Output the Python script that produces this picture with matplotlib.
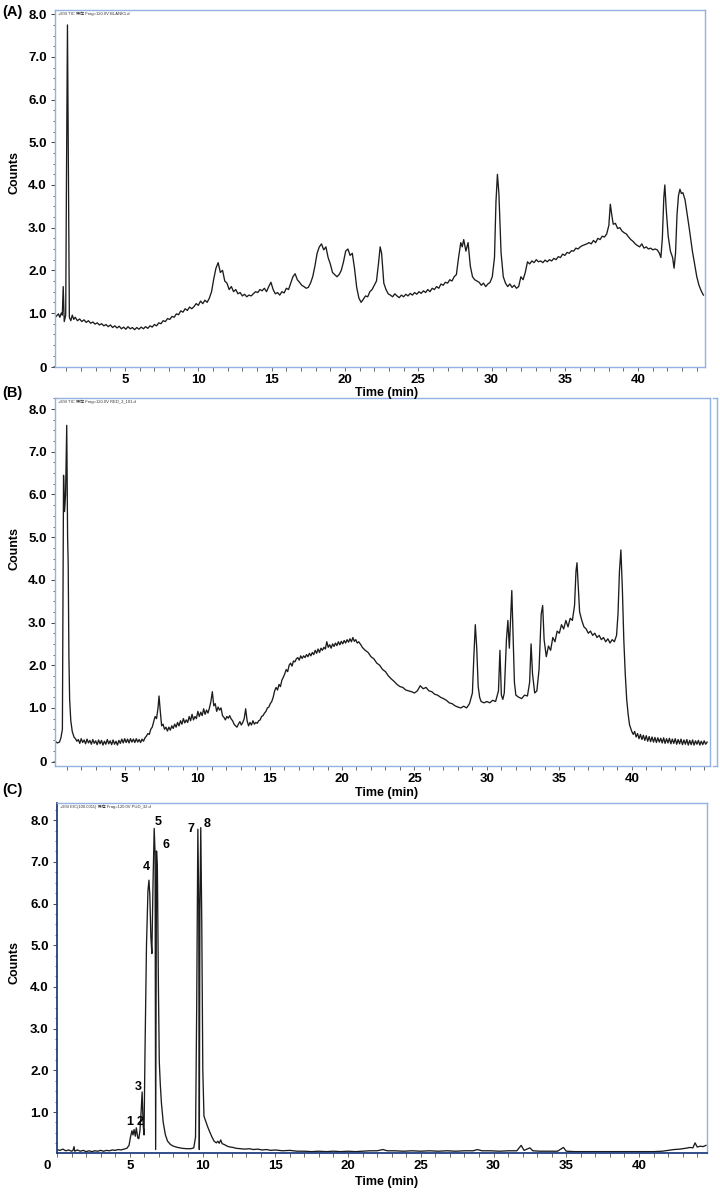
import matplotlib
matplotlib.use('Agg')
import matplotlib.pyplot as plt
from matplotlib.ticker import MultipleLocator, FixedLocator, NullFormatter
from matplotlib.lines import Line2D

plt.rcParams['font.family'] = ['Liberation Sans', 'Noto Sans CJK SC', 'DejaVu Sans']
plt.rcParams['font.weight'] = 'bold'

# ---------------- data ----------------
time_a = [0.3, 0.45, 0.55, 0.65, 0.72, 0.78, 0.85, 0.95, 1.0, 1.07, 1.15, 1.2, 1.3, 1.4, 1.5, 1.6, 1.75, 1.9,
          2.05, 2.2, 2.35, 2.5, 2.65, 2.8, 2.95, 3.1, 3.25, 3.4, 3.55, 3.7, 3.85, 4.0, 4.15, 4.3, 4.45, 4.6,
          4.75, 4.9, 5.05, 5.2, 5.35, 5.5, 5.65, 5.8, 5.95, 6.1, 6.25, 6.4, 6.55, 6.7, 6.85, 7.0, 7.15, 7.3,
          7.45, 7.6, 7.75, 7.9, 8.05, 8.2, 8.35, 8.5, 8.65, 8.8, 8.95, 9.1, 9.25, 9.4, 9.55, 9.7, 9.85, 10.0,
          10.15, 10.3, 10.45, 10.6, 10.75, 10.9, 11.05, 11.2, 11.35, 11.5, 11.65, 11.8, 11.95, 12.1, 12.25,
          12.4, 12.55, 12.7, 12.85, 13.0, 13.15, 13.3, 13.45, 13.6, 13.75, 13.9, 14.05, 14.2, 14.35, 14.5,
          14.65, 14.8, 14.95, 15.1, 15.25, 15.4, 15.55, 15.7, 15.85, 16.0, 16.15, 16.3, 16.45, 16.6, 16.75,
          16.9, 17.05, 17.2, 17.35, 17.5, 17.65, 17.8, 17.95, 18.1, 18.25, 18.4, 18.55, 18.7, 18.85, 19.0,
          19.15, 19.3, 19.45, 19.6, 19.75, 19.9, 20.05, 20.2, 20.35, 20.5, 20.65, 20.8, 20.95, 21.1, 21.25,
          21.4, 21.55, 21.7, 21.85, 22.0, 22.15, 22.3, 22.4, 22.5, 22.65, 22.8, 22.95, 23.1, 23.25, 23.4,
          23.55, 23.7, 23.85, 24.0, 24.15, 24.3, 24.45, 24.6, 24.75, 24.9, 25.05, 25.2, 25.35, 25.5, 25.65,
          25.8, 25.95, 26.1, 26.25, 26.4, 26.55, 26.7, 26.85, 27.0, 27.15, 27.3, 27.45, 27.6, 27.75, 27.9,
          28.0, 28.1, 28.25, 28.4, 28.55, 28.7, 28.85, 29.0, 29.15, 29.3, 29.45, 29.6, 29.75, 29.9, 30.05,
          30.2, 30.3, 30.4, 30.5, 30.65, 30.8, 30.95, 31.1, 31.25, 31.4, 31.55, 31.7, 31.85, 32.0, 32.15,
          32.3, 32.45, 32.6, 32.75, 32.9, 33.05, 33.2, 33.35, 33.5, 33.65, 33.8, 33.95, 34.1, 34.25, 34.4,
          34.55, 34.7, 34.85, 35.0, 35.15, 35.3, 35.45, 35.6, 35.75, 35.9, 36.05, 36.2, 36.35, 36.5, 36.65,
          36.8, 36.95, 37.1, 37.25, 37.4, 37.55, 37.7, 37.85, 38.0, 38.1, 38.2, 38.3, 38.45, 38.6, 38.75,
          38.9, 39.05, 39.2, 39.35, 39.5, 39.65, 39.8, 39.95, 40.1, 40.25, 40.4, 40.55, 40.7, 40.85, 41.0,
          41.15, 41.3, 41.45, 41.55, 41.65, 41.75, 41.82, 41.92, 42.05, 42.2, 42.35, 42.45, 42.55, 42.65,
          42.75, 42.85, 42.95, 43.05, 43.2, 43.35, 43.5, 43.7, 43.85, 44.0, 44.15, 44.3, 44.45]
counts_a = [0.92, 0.98, 0.90, 1.00, 0.95, 1.62, 0.80, 0.95, 4.00, 7.75, 3.50, 0.90, 0.82, 0.95, 0.85, 0.90,
            0.82, 0.86, 0.80, 0.84, 0.78, 0.82, 0.76, 0.79, 0.74, 0.77, 0.72, 0.75, 0.70, 0.73, 0.68, 0.72,
            0.66, 0.70, 0.65, 0.69, 0.63, 0.67, 0.62, 0.68, 0.63, 0.66, 0.61, 0.66, 0.62, 0.67, 0.63, 0.68,
            0.64, 0.70, 0.67, 0.73, 0.70, 0.77, 0.75, 0.82, 0.80, 0.87, 0.85, 0.92, 0.90, 0.98, 0.96, 1.05,
            1.02, 1.10, 1.06, 1.14, 1.10, 1.15, 1.22, 1.18, 1.28, 1.22, 1.30, 1.25, 1.35, 1.50, 1.80, 2.05,
            2.18, 1.95, 2.00, 1.75, 1.70, 1.55, 1.62, 1.50, 1.55, 1.45, 1.48, 1.40, 1.44, 1.38, 1.42, 1.40,
            1.45, 1.50, 1.48, 1.55, 1.52, 1.58, 1.50, 1.62, 1.72, 1.55, 1.45, 1.48, 1.42, 1.50, 1.47, 1.58,
            1.55, 1.70, 1.85, 1.92, 1.78, 1.72, 1.65, 1.62, 1.58, 1.60, 1.70, 1.85, 2.10, 2.40, 2.55, 2.62,
            2.48, 2.55, 2.30, 2.15, 1.95, 1.90, 1.85, 1.90, 2.00, 2.20, 2.45, 2.50, 2.35, 2.40, 2.05, 1.60,
            1.35, 1.25, 1.32, 1.40, 1.38, 1.50, 1.55, 1.65, 1.75, 2.20, 2.55, 2.40, 1.70, 1.55, 1.45, 1.42,
            1.38, 1.45, 1.40, 1.36, 1.42, 1.38, 1.44, 1.40, 1.46, 1.42, 1.48, 1.44, 1.50, 1.46, 1.52, 1.48,
            1.55, 1.50, 1.58, 1.55, 1.62, 1.58, 1.68, 1.65, 1.72, 1.70, 1.78, 1.75, 1.85, 1.90, 2.30, 2.65,
            2.55, 2.72, 2.45, 2.65, 2.10, 1.85, 1.78, 1.75, 1.72, 1.65, 1.70, 1.62, 1.68, 1.72, 1.85, 2.30,
            3.60, 4.25, 3.80, 2.40, 1.85, 1.70, 1.62, 1.68, 1.60, 1.65, 1.58, 1.62, 1.85, 1.78, 1.95, 2.20,
            2.15, 2.22, 2.18, 2.25, 2.20, 2.22, 2.18, 2.24, 2.20, 2.25, 2.22, 2.28, 2.25, 2.32, 2.30, 2.38,
            2.35, 2.42, 2.40, 2.46, 2.45, 2.52, 2.50, 2.55, 2.58, 2.60, 2.62, 2.65, 2.62, 2.70, 2.65, 2.75,
            2.72, 2.80, 2.78, 2.85, 3.05, 3.55, 3.30, 3.08, 3.10, 2.98, 3.00, 2.92, 2.88, 2.85, 2.78, 2.72,
            2.68, 2.62, 2.58, 2.55, 2.62, 2.52, 2.55, 2.50, 2.52, 2.48, 2.50, 2.48, 2.40, 2.30, 2.75, 3.70,
            4.00, 3.40, 2.80, 2.45, 2.30, 2.05, 2.40, 3.30, 3.75, 3.90, 3.80, 3.82, 3.65, 3.30, 2.95, 2.45,
            2.15, 1.85, 1.65, 1.52, 1.42]

time_b = [0.2, 0.35, 0.5, 0.6, 0.7, 0.78, 0.85, 0.92, 1.0, 1.06,
          1.1, 1.15, 1.2, 1.28, 1.38, 1.5, 1.6, 1.7, 1.8, 1.9,
          2.0, 2.1, 2.2, 2.3, 2.4, 2.5, 2.6, 2.7, 2.8, 2.9,
          3.0, 3.1, 3.2, 3.3, 3.4, 3.5, 3.6, 3.7, 3.8, 3.9,
          4.0, 4.1, 4.2, 4.3, 4.4, 4.5, 4.6, 4.7, 4.8, 4.9,
          5.0, 5.1, 5.2, 5.3, 5.4, 5.5, 5.6, 5.7, 5.8, 5.9,
          6.0, 6.1, 6.2, 6.3, 6.4, 6.5, 6.6, 6.7, 6.8, 6.9,
          7.0, 7.1, 7.2, 7.3, 7.37, 7.45, 7.55, 7.65, 7.75, 7.85,
          7.95, 8.05, 8.15, 8.25, 8.35, 8.45, 8.55, 8.65, 8.75, 8.85,
          8.95, 9.05, 9.15, 9.25, 9.35, 9.45, 9.55, 9.65, 9.75, 9.85,
          9.95, 10.05, 10.15, 10.25, 10.35, 10.45, 10.55, 10.65, 10.75, 10.85,
          10.95, 11.05, 11.15, 11.25, 11.35, 11.45, 11.55, 11.65, 11.75, 11.85,
          11.95, 12.05, 12.15, 12.25, 12.35, 12.45, 12.55, 12.65, 12.75, 12.85,
          12.95, 13.05, 13.15, 13.25, 13.35, 13.45, 13.55, 13.65, 13.75, 13.85,
          13.95, 14.05, 14.15, 14.25, 14.35, 14.45, 14.55, 14.65, 14.75, 14.85,
          14.95, 15.05, 15.15, 15.25, 15.35, 15.45, 15.55, 15.65, 15.75, 15.85,
          15.95, 16.05, 16.15, 16.25, 16.35, 16.45, 16.55, 16.65, 16.75, 16.85,
          16.95, 17.05, 17.15, 17.25, 17.35, 17.45, 17.55, 17.65, 17.75, 17.85,
          17.95, 18.05, 18.15, 18.25, 18.35, 18.45, 18.55, 18.65, 18.75, 18.85,
          18.95, 19.05, 19.15, 19.25, 19.35, 19.45, 19.55, 19.65, 19.75, 19.85,
          19.95, 20.05, 20.15, 20.25, 20.35, 20.45, 20.55, 20.65, 20.75, 20.85,
          20.95, 21.05, 21.15, 21.3, 21.4, 21.6, 21.8, 22.0, 22.2, 22.4,
          22.6, 22.8, 23.0, 23.2, 23.4, 23.6, 23.8, 24.0, 24.2, 24.4,
          24.6, 24.8, 25.0, 25.2, 25.4, 25.6, 25.8, 26.0, 26.2, 26.4,
          26.6, 26.8, 27.0, 27.2, 27.4, 27.6, 27.8, 28.0, 28.2, 28.4,
          28.6, 28.8, 29.0, 29.1, 29.2, 29.3, 29.4, 29.5, 29.6, 29.8,
          30.0, 30.2, 30.4, 30.6, 30.8, 30.9, 31.0, 31.1, 31.2, 31.35,
          31.45, 31.55, 31.65, 31.72, 31.8, 31.9, 32.0, 32.2, 32.4, 32.6,
          32.8, 32.95, 33.05, 33.15, 33.3, 33.45, 33.6, 33.75, 33.85, 33.95,
          34.1, 34.25, 34.4, 34.55, 34.7, 34.85, 35.0, 35.15, 35.3, 35.45,
          35.6, 35.75, 35.9, 36.05, 36.15, 36.22, 36.3, 36.4, 36.55, 36.7,
          36.85, 37.0, 37.15, 37.3, 37.45, 37.6, 37.75, 37.9, 38.05, 38.2,
          38.35, 38.5, 38.65, 38.8, 38.95, 39.05, 39.15, 39.25, 39.35, 39.45,
          39.55, 39.65, 39.75, 39.85, 40.0, 40.1, 40.2, 40.3, 40.4, 40.5,
          40.6, 40.7, 40.8, 40.9, 41.0, 41.1, 41.2, 41.3, 41.4, 41.5,
          41.6, 41.7, 41.8, 41.9, 42.0, 42.1, 42.2, 42.3, 42.4, 42.5,
          42.6, 42.7, 42.8, 42.9, 43.0, 43.1, 43.2, 43.3, 43.4, 43.5,
          43.6, 43.7, 43.8, 43.9, 44.0, 44.1, 44.2, 44.3, 44.4, 44.5,
          44.6, 44.7, 44.8, 44.9, 45.0, 45.1, 45.2]
counts_b = [0.22, 0.18, 0.20, 0.30, 0.50, 6.45, 5.60, 6.00, 7.62, 5.00,
            4.40, 2.20, 1.20, 0.70, 0.45, 0.32, 0.28, 0.22, 0.26, 0.17,
            0.28, 0.19, 0.25, 0.16, 0.27, 0.18, 0.24, 0.15, 0.26, 0.17,
            0.23, 0.14, 0.25, 0.16, 0.24, 0.13, 0.22, 0.15, 0.26, 0.16,
            0.23, 0.14, 0.25, 0.15, 0.22, 0.13, 0.24, 0.17, 0.27, 0.18,
            0.28, 0.19, 0.27, 0.18, 0.28, 0.20, 0.27, 0.19, 0.28, 0.20,
            0.26, 0.19, 0.27, 0.22, 0.30, 0.34, 0.40, 0.38, 0.50, 0.55,
            0.68, 0.80, 0.75, 1.00, 1.28, 0.95, 0.58, 0.62, 0.50, 0.55,
            0.46, 0.55, 0.48, 0.58, 0.52, 0.62, 0.55, 0.66, 0.58, 0.70,
            0.62, 0.75, 0.65, 0.72, 0.66, 0.80, 0.70, 0.85, 0.72, 0.80,
            0.75, 0.92, 0.80, 0.90, 0.82, 0.98, 0.85, 0.95, 0.88, 1.00,
            1.15, 1.38, 1.05, 1.10, 0.92, 1.02, 0.95, 1.00, 0.82, 0.78,
            0.72, 0.80, 0.76, 0.82, 0.74, 0.70, 0.62, 0.58, 0.55, 0.62,
            0.68, 0.60, 0.66, 0.75, 0.98, 0.70, 0.58, 0.66, 0.60, 0.70,
            0.62, 0.66, 0.64, 0.70, 0.72, 0.80, 0.82, 0.88, 0.92, 1.00,
            1.02, 1.10, 1.15, 1.25, 1.40, 1.48, 1.42, 1.55, 1.50, 1.65,
            1.72, 1.80, 1.90, 1.85, 2.00, 2.05, 1.98, 2.10, 2.08, 2.15,
            2.18, 2.12, 2.22, 2.16, 2.22, 2.18, 2.25, 2.20, 2.28, 2.22,
            2.30, 2.25, 2.35, 2.28, 2.38, 2.30, 2.40, 2.35, 2.42, 2.38,
            2.55, 2.42, 2.48, 2.40, 2.50, 2.44, 2.52, 2.46, 2.55, 2.48,
            2.56, 2.50, 2.58, 2.52, 2.60, 2.54, 2.62, 2.55, 2.65, 2.56,
            2.60, 2.52, 2.55, 2.48, 2.42, 2.35, 2.30, 2.20, 2.15, 2.05,
            2.00, 1.90, 1.85, 1.75, 1.68, 1.62, 1.55, 1.50, 1.48, 1.42,
            1.40, 1.38, 1.35, 1.40, 1.52, 1.45, 1.48, 1.40, 1.38, 1.32,
            1.30, 1.25, 1.22, 1.18, 1.12, 1.10, 1.05, 1.02, 1.00, 1.04,
            1.00, 1.10, 1.35, 2.20, 2.95, 2.40, 1.50, 1.25, 1.15, 1.12,
            1.15, 1.12, 1.18, 1.15, 1.40, 2.35, 1.30, 1.20, 1.35, 2.60,
            3.05, 2.40, 3.20, 3.75, 2.80, 1.60, 1.30, 1.25, 1.22, 1.30,
            1.28, 1.60, 2.50, 1.80, 1.35, 1.40, 1.90, 3.20, 3.40, 2.60,
            2.20, 2.45, 2.35, 2.65, 2.55, 2.80, 2.75, 2.95, 2.85, 3.05,
            2.90, 3.10, 3.05, 3.40, 4.20, 4.40, 3.90, 3.25, 3.05, 2.90,
            2.85, 2.75, 2.80, 2.70, 2.75, 2.65, 2.70, 2.60, 2.65, 2.55,
            2.62, 2.52, 2.60, 2.55, 2.70, 3.20, 4.20, 4.70, 3.80, 2.60,
            1.80, 1.20, 0.85, 0.60, 0.45, 0.38, 0.45, 0.32, 0.40, 0.28,
            0.38, 0.26, 0.36, 0.24, 0.35, 0.22, 0.33, 0.21, 0.32, 0.20,
            0.31, 0.19, 0.30, 0.20, 0.29, 0.18, 0.30, 0.17, 0.28, 0.18,
            0.29, 0.16, 0.27, 0.17, 0.28, 0.15, 0.26, 0.16, 0.27, 0.14,
            0.25, 0.15, 0.26, 0.13, 0.24, 0.14, 0.25, 0.13, 0.23, 0.15,
            0.24, 0.13, 0.22, 0.14, 0.23, 0.15, 0.20]

time_c = [0.0, 0.2, 0.4, 0.6, 0.8, 1.0, 1.1, 1.17, 1.22, 1.4, 1.6, 1.8, 2.0, 2.2, 2.4, 2.6, 2.8, 3.0,
          3.2, 3.4, 3.6, 3.8, 4.0, 4.2, 4.4, 4.6, 4.8, 4.95, 5.05, 5.15, 5.22, 5.3, 5.38, 5.45, 5.55,
          5.62, 5.7, 5.78, 5.85, 5.92, 5.98, 6.05, 6.15, 6.25, 6.32, 6.38, 6.45, 6.52, 6.6, 6.68, 6.74,
          6.78, 6.84, 6.9, 6.97, 7.03, 7.1, 7.18, 7.3, 7.45, 7.6, 7.8, 8.0, 8.3, 8.6, 8.9, 9.2, 9.4,
          9.52, 9.6, 9.68, 9.74, 9.78, 9.82, 9.88, 9.95, 10.02, 10.1, 10.2, 10.35, 10.5, 10.65, 10.8,
          10.95, 11.05, 11.15, 11.25, 11.35, 11.5, 11.7, 11.9, 12.1, 12.3, 12.6, 12.9, 13.2, 13.5, 13.8,
          14.1, 14.4, 14.7, 15.0, 15.5, 16.0, 16.5, 17.0, 17.5, 18.0, 18.5, 19.0, 19.5, 20.0, 20.5, 21.0,
          21.5, 22.0, 22.4, 22.7, 23.2, 23.8, 24.4, 25.0, 25.6, 26.2, 26.8, 27.4, 28.0, 28.6, 28.9, 29.2,
          29.8, 30.4, 31.0, 31.6, 31.9, 32.1, 32.5, 32.7, 33.2, 33.8, 34.4, 34.8, 35.0, 35.6, 36.2, 36.8,
          37.4, 38.0, 38.6, 39.2, 39.8, 40.4, 41.0, 41.6, 42.0, 42.4, 42.8, 43.2, 43.5, 43.7, 43.85,
          44.0, 44.2, 44.4, 44.6]
counts_c = [0.10, 0.08, 0.11, 0.07, 0.09, 0.06, 0.08, 0.17, 0.06, 0.09, 0.06, 0.08, 0.05, 0.07, 0.05,
            0.07, 0.06, 0.08, 0.06, 0.08, 0.07, 0.09, 0.08, 0.10, 0.09, 0.11, 0.13, 0.20, 0.40, 0.55,
            0.45, 0.58, 0.42, 0.62, 0.38, 0.36, 0.55, 1.00, 1.48, 0.70, 0.45, 2.50, 5.00, 6.30, 6.56,
            6.20, 5.20, 4.80, 6.50, 7.80, 7.20, 0.10, 7.26, 6.80, 4.00, 2.20, 1.65, 1.20, 0.75, 0.45,
            0.30, 0.22, 0.18, 0.15, 0.13, 0.12, 0.12, 0.14, 0.40, 3.50, 7.78, 6.00, 0.10, 5.80, 7.82,
            5.50, 2.00, 0.90, 0.80, 0.65, 0.52, 0.40, 0.30, 0.26, 0.30, 0.25, 0.33, 0.24, 0.22, 0.18,
            0.16, 0.15, 0.13, 0.12, 0.11, 0.12, 0.10, 0.11, 0.09, 0.10, 0.08, 0.09, 0.07, 0.08, 0.06,
            0.06, 0.05, 0.06, 0.05, 0.06, 0.05, 0.06, 0.05, 0.06, 0.07, 0.07, 0.10, 0.07, 0.07, 0.06,
            0.07, 0.06, 0.07, 0.06, 0.07, 0.06, 0.07, 0.07, 0.10, 0.07, 0.07, 0.06, 0.07, 0.07, 0.20,
            0.08, 0.14, 0.07, 0.06, 0.06, 0.06, 0.15, 0.06, 0.05, 0.05, 0.05, 0.05, 0.05, 0.05, 0.05,
            0.05, 0.05, 0.05, 0.06, 0.08, 0.10, 0.11, 0.13, 0.15, 0.14, 0.26, 0.16, 0.18, 0.17, 0.20]

peak_names = ['1', '2', '3', '4', '5', '6', '7', '8']
peak_label_t = [5.02, 5.71, 5.57, 6.12, 6.94, 7.49, 9.21, 10.31]
peak_label_v = [0.76, 0.76, 1.60, 6.88, 7.95, 7.40, 7.79, 7.90]

y_labels = ['0', '1.0', '2.0', '3.0', '4.0', '5.0', '6.0', '7.0', '8.0']
x_ticks = [5, 10, 15, 20, 25, 30, 35, 40]
headers = ['+ESI TIC 保存 Frag=120.0V BLANK1.d',
           '+ESI TIC 保存 Frag=120.0V RED_3_101.d',
           '+ESI EIC(100.0011) 保存 Frag=120.0V PUD_32.d']

# ---------------- layout ----------------
W, H = 720, 1192
fig = plt.figure(figsize=(W / 100, H / 100), dpi=100)

def box(l, t, r, b):
    return [l / W, 1 - b / H, (r - l) / W, (b - t) / H]

LIGHT = '#93b1e4'
NAVY = '#23407f'
LINE = '#1c1c1c'

panels = [
    dict(rect=box(55, 10, 705, 367), xlim=(0.22, 44.56), ylim=(-0.265, 8.1), zero=-0.265,
         t=time_a, v=counts_a, tag='(A)', tagy=12, county=172, ticky=380, timey=393),
    dict(rect=box(55, 398, 710, 766), xlim=(0.19, 45.4), ylim=(-0.36, 8.26), zero=-0.265,
         t=time_b, v=counts_b, tag='(B)', tagy=393, county=548, ticky=779, timey=793),
    dict(rect=box(57, 803, 707, 1153), xlim=(0.0, 44.67), ylim=(0.017, 8.41), zero=None,
         t=time_c, v=counts_c, tag='(C)', tagy=790, county=962, ticky=1167, timey=1182),
]

for i, p in enumerate(panels):
    ax = fig.add_axes(p['rect'])
    ax.plot(p['t'], p['v'], color=LINE, lw=0.95)
    ax.set_xlim(*p['xlim'])
    ax.set_ylim(*p['ylim'])
    for s in ax.spines.values():
        s.set_color(LIGHT)
        s.set_linewidth(1.0)
    if i == 2:
        ax.spines['left'].set_color(NAVY)
        ax.spines['bottom'].set_color(NAVY)
        ax.spines['left'].set_linewidth(1.3)
        ax.spines['bottom'].set_linewidth(1.3)
    # x ticks
    ax.xaxis.set_major_locator(FixedLocator(x_ticks))
    ax.xaxis.set_minor_locator(MultipleLocator(1))
    ax.tick_params(axis='x', which='both', direction='out', length=3, width=0.6,
                   color='#555555', labelsize=9.5, pad=2)
    # y ticks
    if p['zero'] is not None:
        ypos = [p['zero']] + list(range(1, 9))
        ylab = y_labels
    else:
        ypos = list(range(1, 9))
        ylab = y_labels[1:]
    ax.yaxis.set_major_locator(FixedLocator(ypos))
    ax.set_yticklabels(ylab)
    ax.yaxis.set_minor_locator(MultipleLocator(0.25))
    ax.yaxis.set_minor_formatter(NullFormatter())
    ax.tick_params(axis='y', which='major', direction='out', length=3, width=0.7,
                   color='#444444', labelsize=9.5, pad=3)
    ax.tick_params(axis='y', which='minor', direction='out', length=1.8, width=0.6,
                   color='#555555')
    ax.text(0.004, 0.996, headers[i], transform=ax.transAxes, fontsize=3,
            fontweight='normal', va='top', ha='left', color='#333333')
    fig.text(2 / W, 1 - p['tagy'] / H, p['tag'], fontsize=10.5, fontweight='bold',
             ha='left', va='center')
    fig.text(14 / W, 1 - p['county'] / H, 'Counts', fontsize=9, fontweight='bold',
             rotation=90, ha='center', va='center')
    fig.text(387 / W, 1 - p['timey'] / H, 'Time (min)', fontsize=9, fontweight='bold',
             ha='center', va='center')
    if i == 2:
        fig.text(47 / W, 1 - 1166 / H, '0', fontsize=9.5, fontweight='bold',
                 ha='center', va='center')
        for name, tt, vv in zip(peak_names, peak_label_t, peak_label_v):
            ax.text(tt, vv, name, fontsize=9, fontweight='bold', ha='center', va='center')

# bracket at right of panel B
fig.add_artist(Line2D([717 / W, 717 / W], [1 - 398 / H, 1 - 766 / H], color=LIGHT, lw=1.0))
fig.add_artist(Line2D([713 / W, 717 / W], [1 - 398 / H, 1 - 398 / H], color=LIGHT, lw=1.0))
fig.add_artist(Line2D([713 / W, 717 / W], [1 - 766 / H, 1 - 766 / H], color=LIGHT, lw=1.0))

fig.savefig('out.png', dpi=100)
